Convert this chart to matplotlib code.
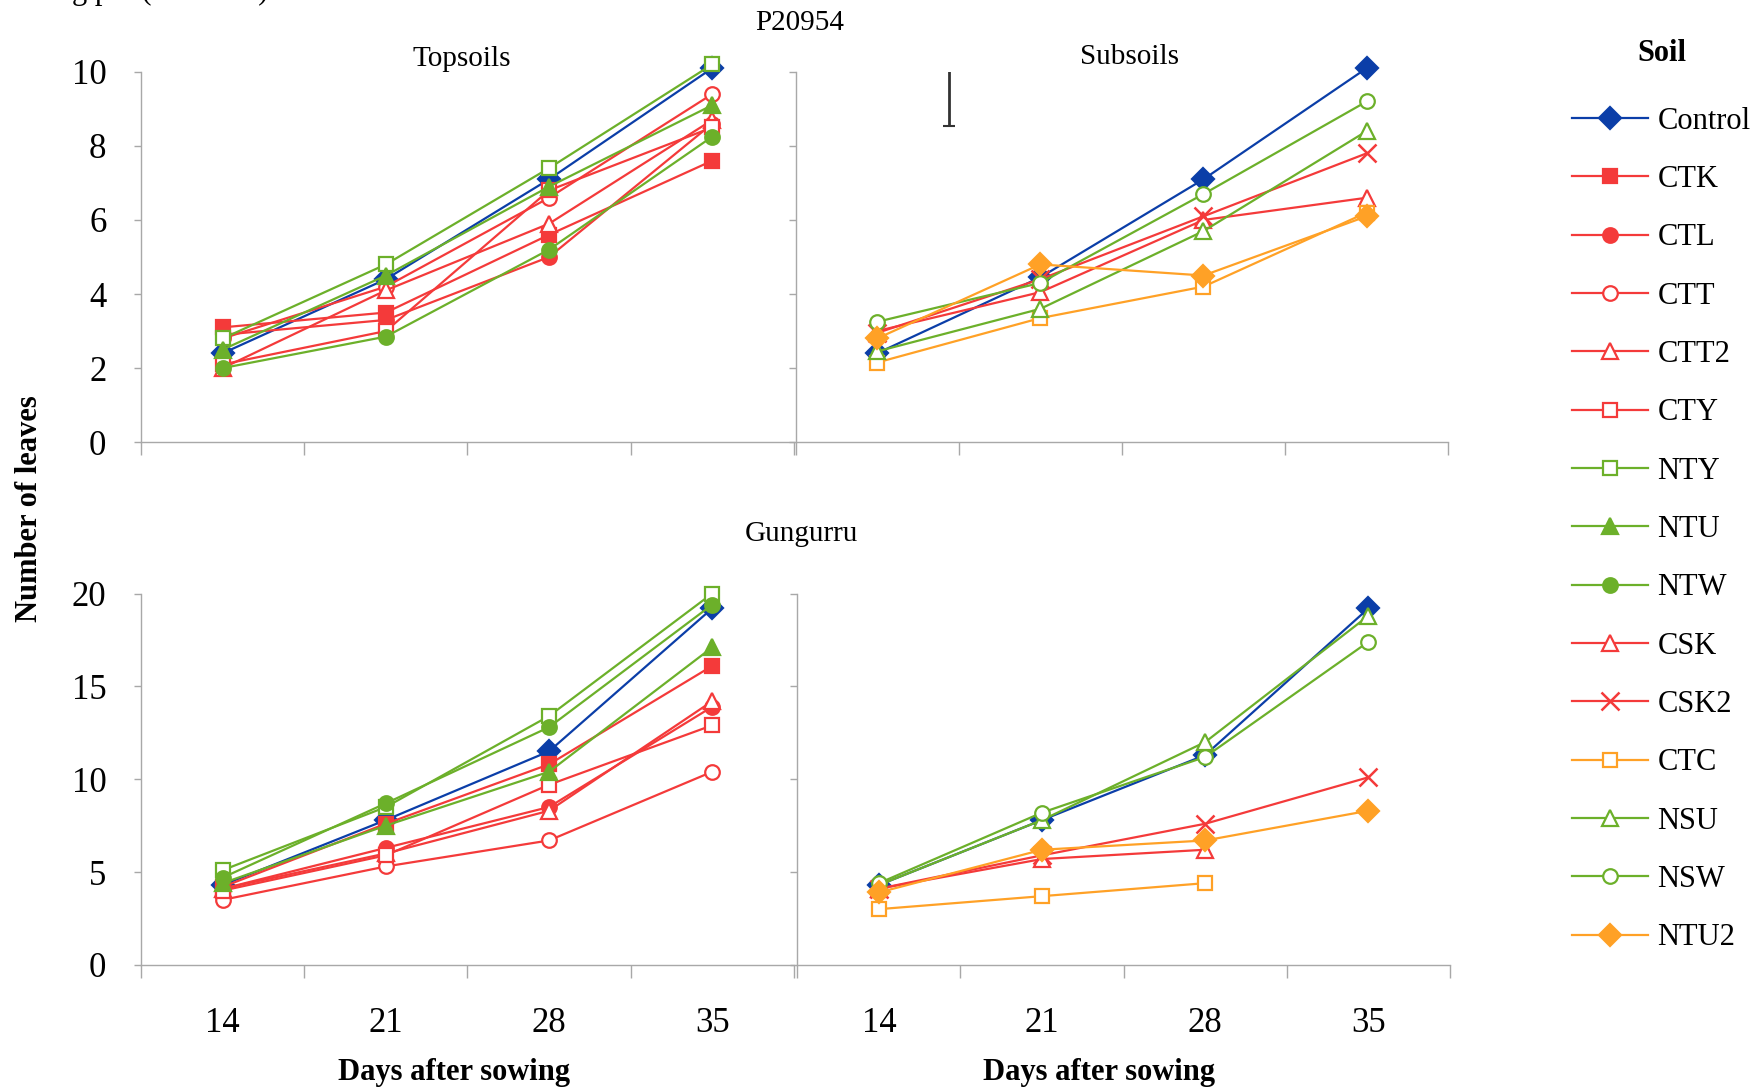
import numpy as np
import matplotlib.pyplot as plt
from matplotlib.lines import Line2D

plt.rcParams['font.family'] = ['Liberation Serif', 'DejaVu Serif']

days = ['14', '21', '28', '35']

# P20954 - topsoils
p20954_top = {
    'Control': [2.4, 4.4, 7.1, 10.1],
    'CTK': [3.1, 3.5, 5.6, 7.6],
    'CTL': [2.9, 3.3, 5.0, 8.6],
    'CTT': [2.8, 4.2, 6.6, 9.4],
    'CTT2': [2.0, 4.1, 5.9, 8.7],
    'CTY': [2.1, 3.0, 6.8, 8.5],
    'NTY': [2.8, 4.8, 7.4, 10.2],
    'NTU': [2.5, 4.5, 6.9, 9.1],
    'NTW': [2.0, 2.85, 5.2, 8.25],
}
# P20954 - subsoils
p20954_sub = {
    'Control': [2.4, 4.45, 7.1, 10.1],
    'CSK': [3.0, 4.05, 6.0, 6.6],
    'CSK2': [2.95, 4.4, 6.1, 7.8],
    'CTC': [2.15, 3.35, 4.2, 6.2],
    'NSU': [2.45, 3.6, 5.7, 8.4],
    'NSW': [3.25, 4.3, 6.7, 9.2],
    'NTU2': [2.8, 4.8, 4.5, 6.1],
}
# Gungurru - topsoils
gung_top = {
    'Control': [4.3, 7.8, 11.5, 19.2],
    'CTK': [4.2, 7.6, 10.8, 16.1],
    'CTL': [4.1, 6.3, 8.5, 13.9],
    'CTT': [3.5, 5.3, 6.7, 10.4],
    'CTT2': [4.1, 6.0, 8.3, 14.2],
    'CTY': [4.0, 5.9, 9.7, 12.9],
    'NTY': [5.1, 8.5, 13.4, 20.0],
    'NTU': [4.4, 7.5, 10.4, 17.1],
    'NTW': [4.7, 8.7, 12.8, 19.4],
}
# Gungurru - subsoils
gung_sub = {
    'Control': [4.3, 7.8, 11.3, 19.2],
    'CSK': [4.1, 5.7, 6.2, np.nan],
    'CSK2': [4.1, 5.9, 7.6, 10.1],
    'CTC': [3.0, 3.7, 4.4, np.nan],
    'NSU': [4.3, 7.8, 12.0, 18.8],
    'NSW': [4.4, 8.2, 11.2, 17.4],
    'NTU2': [3.9, 6.2, 6.7, 8.3],
}

# LSD bar on the P20954 subsoil panel
lsd_x = 0.44
lsd_low, lsd_high = 8.55, 10.1

legend_order = ['Control', 'CTK', 'CTL', 'CTT', 'CTT2', 'CTY', 'NTY', 'NTU',
                'NTW', 'CSK', 'CSK2', 'CTC', 'NSU', 'NSW', 'NTU2']

BLUE = '#0b3ea8'
RED = '#f43a3a'
GREEN = '#6cb02a'
ORANGE = '#ffa126'
GRAY = '#a8a8a8'

styles = {
    'Control': (BLUE, 'D', True),
    'CTK': (RED, 's', True),
    'CTL': (RED, 'o', True),
    'CTT': (RED, 'o', False),
    'CTT2': (RED, '^', False),
    'CTY': (RED, 's', False),
    'NTY': (GREEN, 's', False),
    'NTU': (GREEN, '^', True),
    'NTW': (GREEN, 'o', True),
    'CSK': (RED, '^', False),
    'CSK2': (RED, 'x', False),
    'CTC': (ORANGE, 's', False),
    'NSU': (GREEN, '^', False),
    'NSW': (GREEN, 'o', False),
    'NTU2': (ORANGE, 'D', True),
}
msizes = {'D': 11.5, 's': 10.5, 'o': 10.5, '^': 11.5, 'x': 12.5}


def style_kw(name):
    color, marker, filled = styles[name]
    return dict(color=color, lw=1.6, marker=marker, ms=msizes[marker],
                mfc=color if filled else 'white', mec=color,
                mew=1.8 if marker == 'x' else 1.6)


def draw_panel(ax, data, ymax, step, xlabels, ylabels, label_x=0.48):
    x = np.arange(len(days))
    for name, vals in data.items():
        ax.plot(x, vals, clip_on=False, **style_kw(name))
    ax.set_xlim(-0.5, len(days) - 0.5)
    ax.set_ylim(0, ymax)
    ax.set_xticks(x)
    ax.set_xticklabels(days if xlabels else [])
    ax.set_xticks(np.arange(-0.5, len(days)), minor=True)
    ax.tick_params(axis='x', which='major', length=0, pad=30, labelsize=25)
    ax.tick_params(axis='x', which='minor', length=9, direction='out',
                   color=GRAY, width=1)
    ax.set_yticks(np.arange(0, ymax + step / 2, step))
    if not ylabels:
        ax.set_yticklabels([])
    ax.tick_params(axis='y', length=5, direction='out', color=GRAY,
                   width=1, pad=20, labelsize=25)
    for s in ['top', 'right']:
        ax.spines[s].set_visible(False)
    for s in ['left', 'bottom']:
        ax.spines[s].set_color(GRAY)
        ax.spines[s].set_linewidth(1)
    if xlabels:
        ax.set_xlabel('Days after sowing', fontsize=22, fontweight='bold')
        ax.xaxis.set_label_coords(label_x, -0.25)


fig = plt.figure(figsize=(17.64, 10.89), dpi=100)
ax_tl = fig.add_axes([0.080, 0.594, 0.370, 0.340])
ax_tr = fig.add_axes([0.451, 0.594, 0.370, 0.340])
ax_bl = fig.add_axes([0.080, 0.114, 0.370, 0.341])
ax_br = fig.add_axes([0.452, 0.114, 0.370, 0.341])

draw_panel(ax_tl, p20954_top, 10, 2, False, True)
draw_panel(ax_tr, p20954_sub, 10, 2, False, False)
draw_panel(ax_bl, gung_top, 20, 5, True, True, label_x=0.479)
draw_panel(ax_br, gung_sub, 20, 5, True, False, label_x=0.462)

ax_tr.errorbar([lsd_x], [(lsd_low + lsd_high) / 2],
               yerr=[(lsd_high - lsd_low) / 2], color='#333333',
               elinewidth=2, capsize=4, capthick=1.5, fmt='none')

ax_tl.set_title('Topsoils', fontsize=21, pad=2.8, x=0.491)
ax_tr.set_title('Subsoils', fontsize=21, pad=6, x=0.512)
fig.text(0.4535, 0.979, 'P20954', fontsize=21, ha='center', va='center')
fig.text(0.4545, 0.510, 'Gungurru', fontsize=21, ha='center', va='center')
fig.text(0.017, 0.533, 'Number of leaves', fontsize=22, fontweight='bold',
         rotation=90, ha='center', va='center')
fig.text(0.041, 1.0 + 1 / 1089, 'g pot (              )', fontsize=22,
         va='baseline', ha='left')

handles = [Line2D([], [], **style_kw(n)) for n in legend_order]
fig.text(0.942, 0.951, 'Soil', fontsize=22, fontweight='bold',
         ha='center', va='center')
fig.legend(handles, legend_order, loc='upper left',
           bbox_to_anchor=(0.891, 0.902), frameon=False, fontsize=22,
           labelspacing=0.96, handlelength=2.5, handletextpad=0.3,
           borderpad=0, borderaxespad=0)

fig.savefig('out.png', dpi=100)
